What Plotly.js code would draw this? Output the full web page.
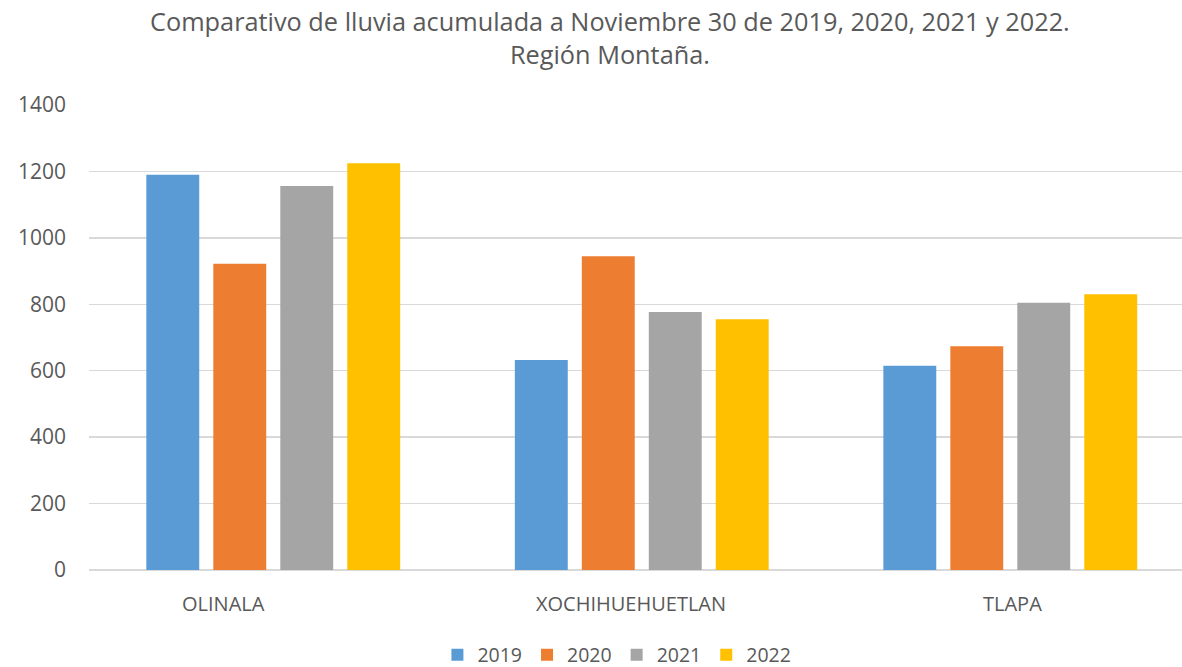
<!DOCTYPE html>
<html>
<head>
<meta charset="utf-8">
<script src="https://cdn.plot.ly/plotly-3.0.1.min.js"></script>
<style>html,body{margin:0;padding:0;background:#fff;}#chart{width:1182px;height:667px;}</style>
</head>
<body>
<div id="chart"></div>
<script>
const categories = ["OLINALA", "XOCHIHUEHUETLAN", "TLAPA"];
const years = ["2019", "2020", "2021", "2022"];
const values2019 = [1190, 632, 615];
const values2020 = [922, 945, 674];
const values2021 = [1156, 777, 805];
const values2022 = [1225, 755, 830];
const yTicks = [0, 200, 400, 600, 800, 1000, 1200, 1400];

const seriesValues = [values2019, values2020, values2021, values2022];
const colors = ["#5B9BD5", "#ED7D31", "#A5A5A5", "#FFC000"];
const FONT = "Open Sans, Lato, sans-serif";
const TXT = "#595959";

const traces = years.map((y, i) => ({
  type: "bar",
  name: y,
  x: categories,
  y: seriesValues[i],
  marker: {color: colors[i], line: {width: 0}},
  hoverinfo: "x+y+name"
}));

const labelShift = [-50, -11, 2];
const annotations = categories.map((c, i) => ({
  x: c, y: 0, xref: "x", yref: "y",
  yanchor: "top", yshift: -18, xshift: labelShift[i],
  text: c, showarrow: false,
  font: {family: FONT, size: 20, color: TXT}
}));

const layout = {
  width: 1182, height: 667,
  margin: {l: 89, r: 0, t: 105, b: 97, autoexpand: false},
  paper_bgcolor: "#fff", plot_bgcolor: "#fff",
  font: {family: FONT, color: TXT},
  title: {
    text: "Comparativo de lluvia acumulada a Noviembre 30 de 2019, 2020, 2021 y 2022.<br>Región Montaña.",
    x: 0.516, xanchor: "center",
    yref: "container", y: 0.953, yanchor: "middle",
    font: {family: FONT, size: 25.3, color: TXT}
  },
  barmode: "group",
  bargap: 0.273,
  bargroupgap: 0.21,
  xaxis: {
    type: "category",
    range: [-0.5, 2.466],
    showticklabels: false,
    showgrid: false,
    zeroline: false,
    showline: false,
    ticks: ""
  },
  yaxis: {
    range: [0, 1400],
    tickvals: yTicks,
    ticktext: yTicks.map(String),
    showgrid: true, gridcolor: "#D9D9D9", gridwidth: 1.5,
    zeroline: true, zerolinecolor: "#D9D9D9", zerolinewidth: 1.5,
    showline: false, ticks: "",
    ticklabelstandoff: 22,
    tickfont: {family: FONT, size: 21, color: TXT}
  },
  legend: {
    orientation: "h",
    x: 0.483, xanchor: "center",
    yref: "container", y: 0.018, yanchor: "middle",
    font: {family: FONT, size: 19.5, color: TXT},
    itemwidth: 30,
    traceorder: "normal"
  },
  annotations: annotations,
  showlegend: true
};

Plotly.newPlot("chart", traces, layout, {displayModeBar: false, staticPlot: true});
</script>
</body>
</html>
